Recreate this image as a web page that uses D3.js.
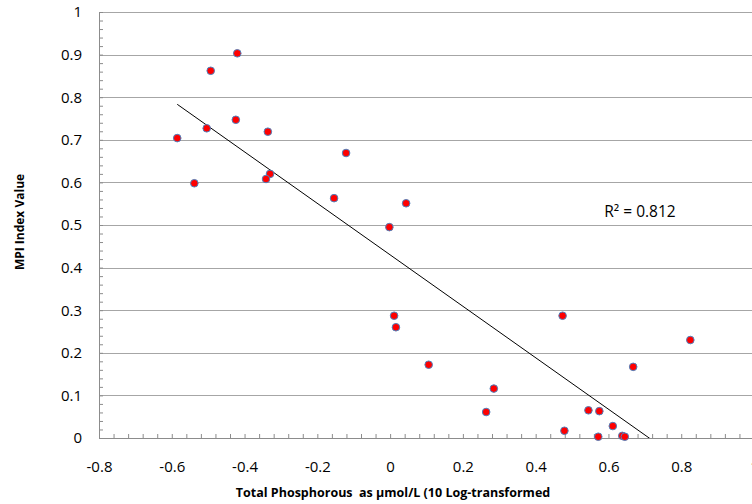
<!DOCTYPE html>
<html>
<head>
<meta charset="utf-8">
<script src="https://cdn.jsdelivr.net/npm/d3@7"></script>
<style>
body { margin: 0; background: #fff; }
text { font-family: "Open Sans", "Liberation Sans", sans-serif; fill: #000; }
</style>
</head>
<body>
<div id="chart"></div>
<script>
// Total Phosphorous (log-transformed) vs MPI index value
var phosphorous = [-0.420, -0.493, -0.424, -0.504, -0.336, -0.585, -0.121, -0.330, -0.341, -0.538,
    -0.154, 0.044, -0.002, 0.011, 0.016, 0.106, 0.285, 0.264, 0.474, 0.825,
    0.668, 0.545, 0.575, 0.612, 0.479, 0.572, 0.638, 0.645];
var mpiValue = [0.903, 0.862, 0.747, 0.727, 0.719, 0.704, 0.669, 0.620, 0.608, 0.598,
    0.563, 0.551, 0.495, 0.287, 0.260, 0.172, 0.116, 0.061, 0.287, 0.230,
    0.167, 0.065, 0.063, 0.028, 0.017, 0.003, 0.005, 0.003];

var xTickValues = [-0.8, -0.6, -0.4, -0.2, 0, 0.2, 0.4, 0.6, 0.8, 1];
var yTickValues = [0, 0.1, 0.2, 0.3, 0.4, 0.5, 0.6, 0.7, 0.8, 0.9, 1];

// linear trendline
var trendSlope = -0.604;
var trendIntercept = 0.430;
var r2Label = 'R\u00b2 = 0.812';

var svgWidth = 752;
var svgHeight = 504;
var margin = { top: 12, right: -2, bottom: 66, left: 99 };
var width = svgWidth - margin.left - margin.right;
var height = svgHeight - margin.top - margin.bottom;

var svg = d3.select('#chart')
    .append('svg')
    .attr('width', svgWidth)
    .attr('height', svgHeight);

var chartGroup = svg.append('g')
    .attr('transform', `translate(${margin.left},${margin.top})`);

var xScale = d3.scaleLinear().domain([-0.8, 1]).range([0, width]);
var yScale = d3.scaleLinear().domain([0, 1]).range([height, 0]);

// gridlines
chartGroup.append('g')
    .selectAll('line')
    .data(yTickValues.filter(d => d > 0))
    .enter()
    .append('line')
    .attr('x1', 0)
    .attr('x2', width)
    .attr('y1', d => Math.round(yScale(d)) + 0.5)
    .attr('y2', d => Math.round(yScale(d)) + 0.5)
    .attr('stroke', '#a6a6a6')
    .attr('stroke-width', 1);

// minor ticks (inside)
chartGroup.append('g')
    .call(d3.axisRight(yScale).ticks(50).tickSize(4).tickFormat(''))
    .call(g => g.select('.domain').remove())
    .selectAll('line').attr('stroke', '#8c8c8c');

chartGroup.append('g')
    .attr('transform', `translate(0,${height})`)
    .call(d3.axisTop(xScale).tickValues(d3.range(-0.8, 1.001, 0.04)).tickSize(4).tickFormat(''))
    .call(g => g.select('.domain').remove())
    .selectAll('line').attr('stroke', '#8c8c8c');

// axis lines
chartGroup.append('line')
    .attr('x1', 0.5).attr('x2', 0.5)
    .attr('y1', 0).attr('y2', height)
    .attr('stroke', '#8c8c8c');
chartGroup.append('line')
    .attr('x1', 0).attr('x2', width)
    .attr('y1', height + 0.5).attr('y2', height + 0.5)
    .attr('stroke', '#8c8c8c');

// tick labels
var leftAxis = d3.axisLeft(yScale)
    .tickValues(yTickValues)
    .tickSize(0)
    .tickPadding(17)
    .tickFormat(d => String(d));
chartGroup.append('g')
    .call(leftAxis)
    .call(g => g.select('.domain').remove())
    .selectAll('text')
    .attr('font-size', '15px')
    .attr('font-family', '"Open Sans", sans-serif');

var bottomAxis = d3.axisBottom(xScale)
    .tickValues(xTickValues)
    .tickSize(0)
    .tickPadding(23)
    .tickFormat(d => String(d));
chartGroup.append('g')
    .attr('transform', `translate(0,${height})`)
    .call(bottomAxis)
    .call(g => g.select('.domain').remove())
    .selectAll('text')
    .attr('font-size', '15px')
    .attr('font-family', '"Open Sans", sans-serif');

// trendline, clipped to plot area
svg.append('clipPath')
    .attr('id', 'plotClip')
    .append('rect')
    .attr('x', 0).attr('y', 0)
    .attr('width', width).attr('height', height);

var xMin = d3.min(phosphorous);
var xMax = d3.max(phosphorous);
chartGroup.append('line')
    .attr('clip-path', 'url(#plotClip)')
    .attr('x1', xScale(xMin))
    .attr('y1', yScale(trendIntercept + trendSlope * xMin))
    .attr('x2', xScale(xMax))
    .attr('y2', yScale(trendIntercept + trendSlope * xMax))
    .attr('stroke', '#000')
    .attr('stroke-width', 1);

// points
var points = phosphorous.map((d, i) => ({ x: d, y: mpiValue[i] }));
chartGroup.selectAll('circle')
    .data(points)
    .enter()
    .append('circle')
    .attr('cx', d => xScale(d.x))
    .attr('cy', d => yScale(d.y))
    .attr('r', 3.8)
    .attr('fill', '#ff0000')
    .attr('stroke', '#4f81bd')
    .attr('stroke-width', 1);

// R squared label
chartGroup.append('text')
    .attr('x', 640 - margin.left)
    .attr('y', 217 - margin.top)
    .attr('text-anchor', 'middle')
    .attr('font-size', '15.5px')
    .text(r2Label);

// axis titles
chartGroup.append('text')
    .attr('transform', 'rotate(-90)')
    .attr('x', -222 + margin.top)
    .attr('y', 23.5 - margin.left)
    .attr('text-anchor', 'middle')
    .attr('font-size', '12px')
    .attr('font-weight', 'bold')
    .text('MPI Index Value');

chartGroup.append('text')
    .attr('x', 393 - margin.left)
    .attr('y', 497 - margin.top)
    .attr('text-anchor', 'middle')
    .attr('font-size', '12.5px')
    .attr('font-weight', 'bold')
    .style('white-space', 'pre')
    .text('Total Phosphorous  as \u00b5mol/L (10 Log-transformed');
</script>
</body>
</html>
